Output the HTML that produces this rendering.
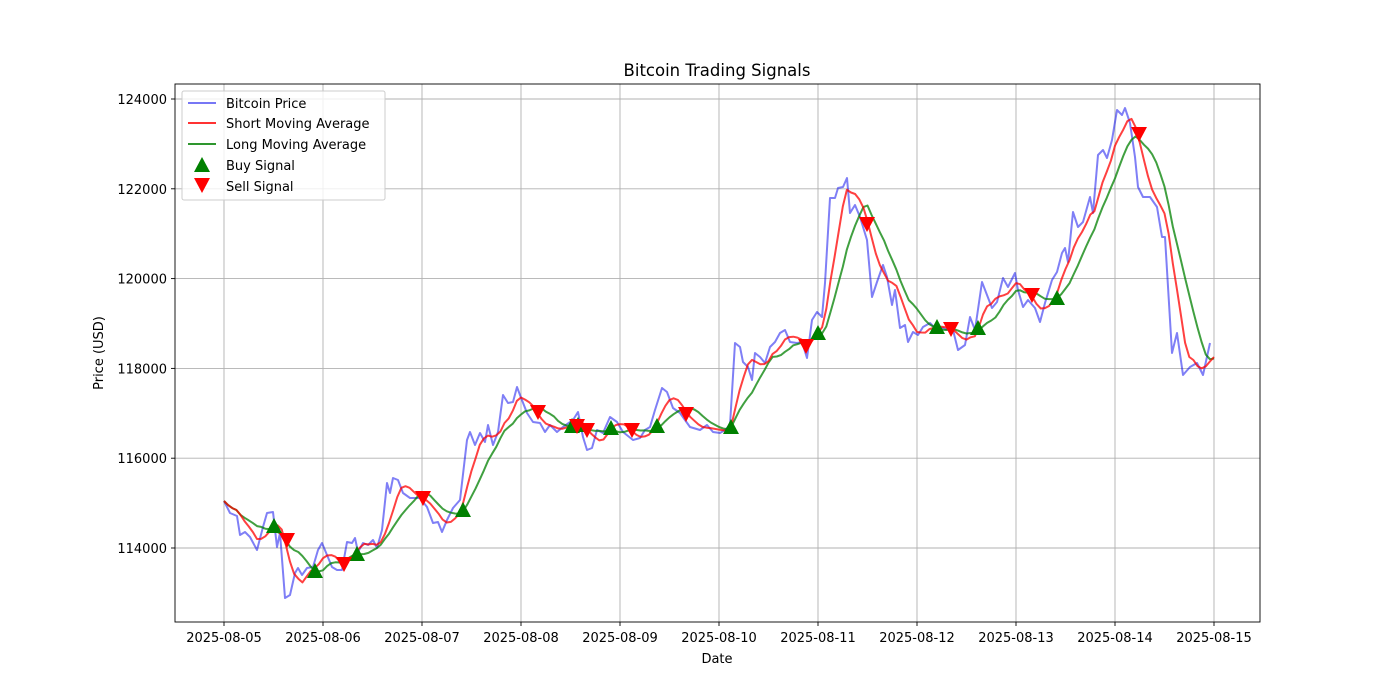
<!DOCTYPE html><html><head><style>body{margin:0;background:#fff}svg{display:block}text{font-family:"DejaVu Sans","Liberation Sans",sans-serif;fill:#000}</style></head><body>
<svg id="s" width="1400" height="700" xmlns="http://www.w3.org/2000/svg">
<rect width="1400" height="700" fill="#fff"/>
<g id="grid" stroke="#b0b0b0" stroke-width="0.9"></g>
<g id="lines" fill="none" stroke-width="2" stroke-linejoin="round"></g>
<g id="marks"></g>
<rect x="175" y="84" width="1085" height="538" fill="none" stroke="#000" stroke-width="0.9"/>
<g id="ticks" font-size="13"></g>
<text x="717" y="76" font-size="16.5" text-anchor="middle">Bitcoin Trading Signals</text>
<text x="717" y="663" font-size="13" text-anchor="middle">Date</text>
<text transform="translate(103,353) rotate(-90)" font-size="13" text-anchor="middle">Price (USD)</text>
<g font-size="13">
<rect x="182" y="91" width="203" height="109" fill="#fff" fill-opacity="0.8" stroke="#ccc" rx="2"/>
<line x1="188" y1="103" x2="216" y2="103" stroke="#7777f5" stroke-width="2"/><text x="226" y="108">Bitcoin Price</text>
<line x1="188" y1="123" x2="216" y2="123" stroke="#f33" stroke-width="2"/><text x="226" y="128">Short Moving Average</text>
<line x1="188" y1="144" x2="216" y2="144" stroke="#2e962e" stroke-width="2"/><text x="226" y="149">Long Moving Average</text>
<polygon points="202,157 210,172 194,172" fill="green"/><text x="226" y="170">Buy Signal</text>
<polygon points="194,178 210,178 202,193" fill="red"/><text x="226" y="191">Sell Signal</text>
</g>
</svg>
<script>
const NS="http://www.w3.org/2000/svg";
function el(p,t,a){const e=document.createElementNS(NS,t);for(const k in a)e.setAttribute(k,a[k]);document.getElementById(p).appendChild(e);return e;}
const dates=["2025-08-05","2025-08-06","2025-08-07","2025-08-08","2025-08-09","2025-08-10","2025-08-11","2025-08-12","2025-08-13","2025-08-14","2025-08-15"];
dates.forEach((d,i)=>{const x=224+i*99;el("grid","line",{x1:x,y1:84,x2:x,y2:622});el("ticks","line",{x1:x,y1:622,x2:x,y2:626,stroke:"#000","stroke-width":"0.9"});const t=el("ticks","text",{x:x,y:642,"text-anchor":"middle"});t.textContent=d;});
for(let v=114000;v<=124000;v+=2000){const y=548-(v-114000)*0.0449;el("grid","line",{x1:175,y1:y,x2:1260,y2:y});el("ticks","line",{x1:171,y1:y,x2:175,y2:y,stroke:"#000","stroke-width":"0.9"});const t=el("ticks","text",{x:167,y:y+5,"text-anchor":"end"});t.textContent=v;}
const P=[[224,501],[230,513],[237,516],[240,535],[245,532],[250,537],[257,550],[263,527],[267,513],[273,512],[277,547],[280,533],[285,598],[290,595],[295,573],[298,568],[302,575],[307,568],[313,567],[318,550],[322,543],[327,555],[332,567],[337,570],[342,570],[347,542],[352,543],[355,538],[358,552],[363,543],[368,545],[373,540],[377,548],[382,530],[387,483],[390,493],[393,478],[398,480],[403,493],[410,498],[420,498],[427,507],[433,523],[438,522],[442,532],[447,520],[453,508],[460,500],[467,440],[470,432],[475,445],[480,433],[485,442],[488,425],[493,445],[498,432],[503,395],[508,403],[513,402],[517,387],[520,395],[527,413],[533,422],[540,423],[545,432],[550,425],[557,432],[563,427],[573,420],[578,412],[583,437],[587,450],[592,448],[597,430],[603,433],[610,417],[617,422],[623,432],[633,440],[640,438],[645,430],[650,427],[655,410],[662,388],[667,392],[673,408],[680,413],[690,427],[700,430],[707,425],[713,432],[720,433],[725,430],[730,425],[735,343],[740,347],[743,362],[748,367],[752,380],[755,353],[760,357],[765,363],[770,347],[775,342],[780,333],[785,330],[790,342],[797,343],[802,342],[807,358],[812,320],[817,312],[822,317],[825,283],[830,198],[835,198],[838,188],[843,187],[847,178],[850,213],[855,205],[860,217],[867,240],[872,297],[877,282],[883,265],[887,277],[892,305],[895,290],[900,328],[905,325],[908,342],[913,332],[918,335],[923,327],[930,323],[937,330],[943,328],[948,330],[953,330],[958,350],[965,345],[970,317],[975,330],[982,282],[987,295],[992,308],[997,302],[1003,278],[1008,287],[1015,273],[1018,290],[1023,307],[1028,300],[1035,308],[1040,322],[1045,303],[1052,280],[1057,272],[1062,253],[1065,248],[1068,262],[1073,212],[1078,227],[1083,222],[1090,197],[1093,213],[1098,155],[1103,150],[1107,158],[1112,140],[1117,110],[1122,115],[1125,108],[1130,123],[1135,157],[1138,187],[1143,197],[1150,197],[1157,207],[1162,237],[1165,237],[1172,353],[1177,333],[1183,375],[1190,367],[1197,363],[1203,375],[1210,343]];
el("lines","polyline",{points:P.map(p=>p.join(",")).join(" "),stroke:"#0000ee","stroke-opacity":"0.5"});
const R=[];let j=0;for(let x=224;x<=1214;x+=99/24){while(j<P.length-2&&P[j+1][0]<x)j++;const a=P[j],b=P[j+1];let t=(x-a[0])/(b[0]-a[0]);t=Math.max(0,Math.min(1,t));R.push([x,a[1]+(b[1]-a[1])*t]);}
function ma(w){return R.map((p,i)=>{let s=0,n=0;for(let k=Math.max(0,i-w+1);k<=i;k++){s+=R[k][1];n++;}return [p[0],s/n];});}
el("lines","polyline",{points:ma(10).map(p=>p[0].toFixed(1)+","+p[1].toFixed(1)).join(" "),stroke:"green","stroke-opacity":"0.75"});
el("lines","polyline",{points:ma(5).map(p=>p[0].toFixed(1)+","+p[1].toFixed(1)).join(" "),stroke:"red","stroke-opacity":"0.75"});
const B=[[274,526],[315,571],[357,554],[463,510],[572,426],[578,425],[611,428],[657,426],[731,427],[818,333],[937,327],[978,328],[1057,298]];
const S=[[287,540],[344,564],[423,498],[538,412],[577,426],[587,430],[632,430],[686,414],[806,346],[867,224],[951,329],[1032,295],[1139,134]];
B.forEach(([x,y])=>el("marks","polygon",{points:`${x},${y-8} ${x+8},${y+7} ${x-8},${y+7}`,fill:"green"}));
S.forEach(([x,y])=>el("marks","polygon",{points:`${x-8},${y-7} ${x+8},${y-7} ${x},${y+8}`,fill:"red"}));
</script>
</body></html>
